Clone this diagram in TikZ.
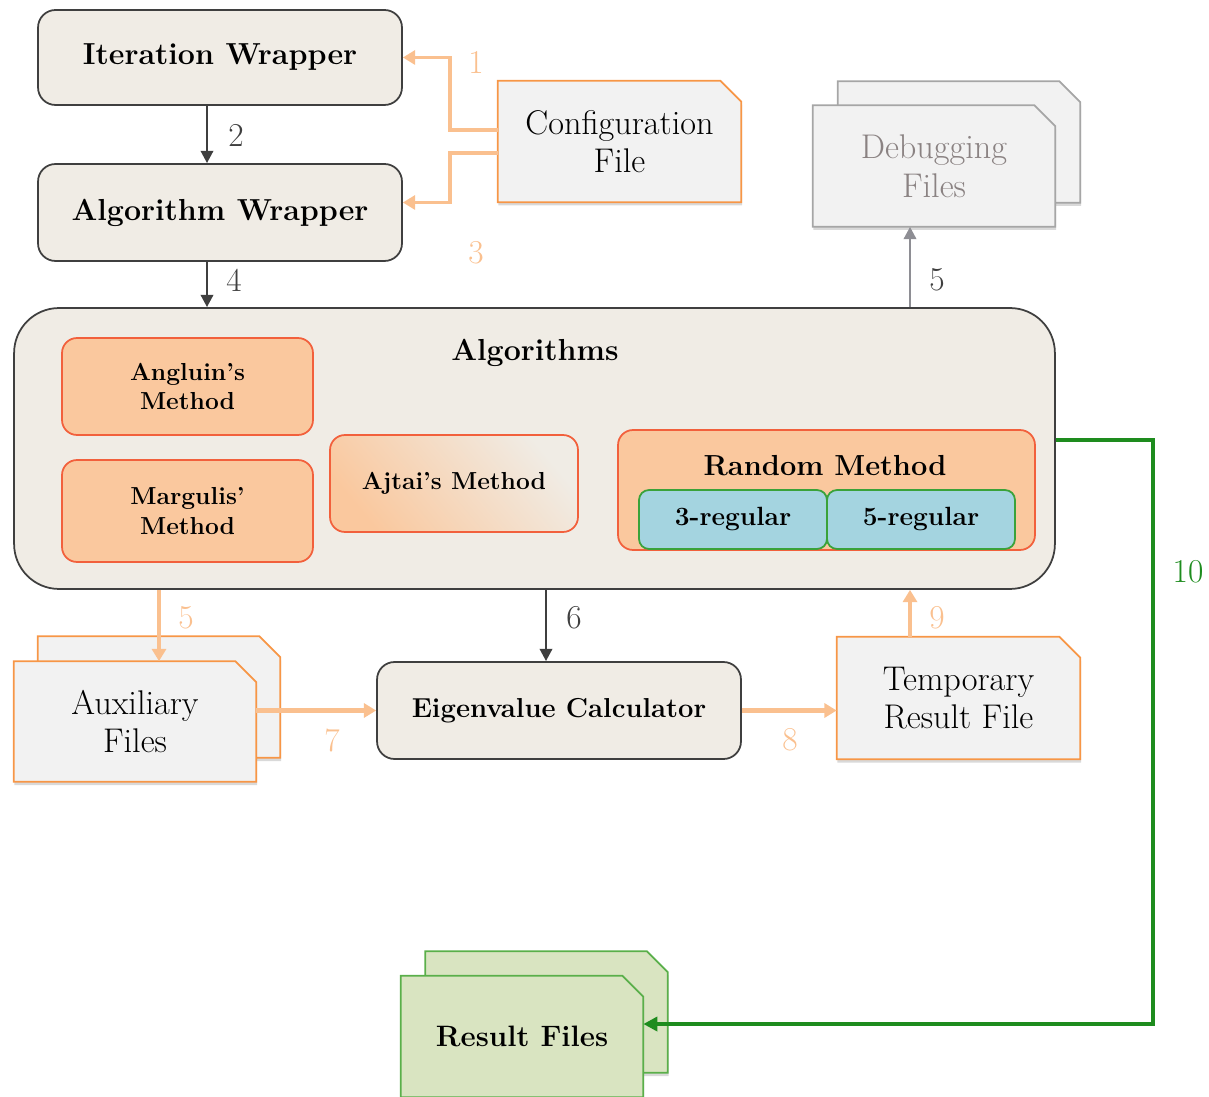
\documentclass[tikz,border=0pt]{standalone}
\usetikzlibrary{positioning,shadows,arrows.meta,backgrounds}

\definecolor{boxfill}{HTML}{F0ECE5}
\definecolor{boxline}{HTML}{3F3F3F}
\definecolor{filefill}{HTML}{F2F2F2}
\definecolor{fileline}{HTML}{F79646}
\definecolor{cfgarrow}{HTML}{FAC08F}
\definecolor{methodfill}{HTML}{FAC89E}
\definecolor{methodline}{HTML}{F2603C}
\definecolor{regfill}{HTML}{A4D4E0}
\definecolor{regline}{HTML}{3AA23A}
\definecolor{resfill}{HTML}{D9E4C1}
\definecolor{resline}{HTML}{5AAF4A}
\definecolor{resarrow}{HTML}{1E8C1E}
\definecolor{dbgline}{HTML}{A6A6A6}
\definecolor{dbgtext}{HTML}{8A8282}
\definecolor{dbgarrow}{HTML}{8E8E94}

% outline of a file node: rectangle with the top right corner cut off
\newcommand\fileoutline[2][]{%
  \path[fileshape,#1] (#2.south west) -- (#2.north west) -- ([xshift=-0.42cm]#2.north east)
    -- ([yshift=-0.42cm]#2.north east) -- (#2.south east) -- cycle;}

\tikzset{
  box/.style={draw=boxline, fill=boxfill, line width=1pt, rounded corners=0.35cm,
    font=\bfseries\fontsize{17.3}{20}\selectfont, align=center},
  method/.style={draw=methodline, fill=methodfill, line width=1pt, rounded corners=0.3cm,
    font=\bfseries\fontsize{14}{17}\selectfont, align=center},
  regbox/.style={draw=regline, fill=regfill, line width=1pt, rounded corners=0.2cm,
    font=\bfseries\fontsize{15}{18}\selectfont, minimum width=3.76cm, minimum height=1.18cm},
  file/.style={rectangle, align=center, font=\fontsize{19.5}{22}\selectfont,
    minimum width=4.84cm, minimum height=2.42cm},
  fileshape/.style={draw=fileline, fill=filefill, line width=1pt,
    drop shadow={opacity=0.3, shadow xshift=0.4pt, shadow yshift=-1.8pt}},
  darrow/.style={draw=boxline, line width=1.5pt, -{Triangle[length=7pt,width=7pt]}},
  carrow/.style={draw=cfgarrow, line width=2.2pt, -{Triangle[length=7pt,width=8pt]}},
  num/.style={font=\fontsize{19}{22}\selectfont}
}

\begin{document}
\begin{tikzpicture}[x=0.02cm, y=-0.02cm]
  \useasboundingbox (0,0) rectangle (1209,1097);

  % wrappers and configuration
  \node[box, minimum width=7.28cm, minimum height=1.9cm] (iter) at (220,57.5) {Iteration Wrapper};
  \node[box, minimum width=7.28cm, minimum height=1.94cm] (algwrap) at (220,212.5) {Algorithm Wrapper};
  \node[file, minimum width=4.86cm] (config) at (619.5,141.5) {Configuration\\File};

  % debugging files
  \node[file] (debugb) at (959,142) {};
  \node[file, text=dbgtext] (debugf) at (934,166) {Debugging\\Files};

  % algorithms
  \node[box, rounded corners=0.9cm, minimum width=20.82cm, minimum height=5.62cm] (algos) at (534.5,448.5) {};
  \node[font=\bfseries\fontsize{17.3}{20}\selectfont] (algostitle) at (535,353) {Algorithms};
  \node[method, minimum width=5.02cm, minimum height=1.94cm] (angluin) at (187.5,386.5) {Angluin's\\Method};
  \node[method, minimum width=5.02cm, minimum height=2.04cm] (margulis) at (187.5,511) {Margulis'\\Method};
  \node[method, fill=none, top color=boxfill, bottom color=methodfill, shading angle=-50,
    minimum width=4.96cm, minimum height=1.94cm] (ajtai) at (454,483.5) {Ajtai's Method};
  \node[method, minimum width=8.34cm, minimum height=2.4cm] (random) at (826.5,490) {};
  \node[font=\bfseries\fontsize{16.5}{19}\selectfont] (randomtitle) at (825,466) {Random Method};
  \node[regbox] (reg3) at (733,519.5) {3-regular};
  \node[regbox] (reg5) at (921,519.5) {5-regular};

  % lower row
  \node[file] (auxb) at (159,697) {};
  \node[file, minimum height=2.4cm] (auxf) at (135,721.5) {Auxiliary\\Files};
  \node[box, font=\bfseries\fontsize{15.6}{18}\selectfont, minimum width=7.28cm, minimum height=1.94cm] (eigen) at (559,710.5) {Eigenvalue Calculator};
  \node[file, minimum width=4.86cm, minimum height=2.44cm] (temp) at (958.5,698) {Temporary\\Result File};

  % results
  \node[file] (resb) at (546.5,1012) {};
  \node[file, font=\bfseries\fontsize{16.8}{19}\selectfont] (resf) at (522,1036.5) {Result Files};

  \begin{scope}[on background layer]
    \fileoutline{config}
    \fileoutline[draw=dbgline]{debugb}
    \fileoutline[draw=dbgline]{debugf}
    \fileoutline{auxb}
    \fileoutline{auxf}
    \fileoutline{temp}
    \fileoutline[draw=resline, fill=resfill]{resb}
    \fileoutline[draw=resline, fill=resfill]{resf}
  \end{scope}

  % connectors
  \draw[carrow] ([yshift=0.23cm]config.west) -- ++(-48,0) |- (iter.east);
  \draw[carrow] ([yshift=-0.23cm]config.west) -- ++(-48,0) |- ([yshift=0.2cm]algwrap.east);
  \draw[darrow] ([xshift=-0.26cm]iter.south) -- ([xshift=-0.26cm]algwrap.north);
  \draw[darrow] ([xshift=-0.26cm]algwrap.south) -- ([xshift=-0.26cm]algwrap.south |- algos.north);
  \draw[darrow, draw=dbgarrow] ([xshift=-0.48cm]debugf.south |- algos.north) -- ([xshift=-0.48cm]debugf.south);
  \draw[carrow] (auxb.north |- algos.south) -- (auxb.north |- auxf.north);
  \draw[darrow] ([xshift=-0.26cm]eigen.north |- algos.south) -- ([xshift=-0.26cm]eigen.north);
  \draw[carrow, line width=2.6pt] (eigen.west -| auxf.east) -- (eigen.west);
  \draw[carrow, line width=2.6pt] (eigen.east) -- (eigen.east -| temp.west);
  \draw[carrow] ([xshift=-0.97cm]temp.north) -- ([xshift=-0.97cm]temp.north |- algos.south);
  \draw[draw=resarrow, line width=2.5pt, -{Triangle[length=8pt,width=8pt]}]
    ([yshift=0.17cm]algos.east) -- ++(97,0) |- ([yshift=0.25cm]resf.east);

  % step numbers
  \node[num, text=cfgarrow] (n1) at (476,62) {1};
  \node[num, text=boxline] (n2) at (236,135) {2};
  \node[num, text=cfgarrow] (n3) at (476,253) {3};
  \node[num, text=boxline] (n4) at (234,280) {4};
  \node[num, text=boxline] (n5a) at (937,280) {5};
  \node[num, text=cfgarrow] (n5b) at (186,618) {5};
  \node[num, text=boxline] (n6) at (574,618) {6};
  \node[num, text=cfgarrow] (n7) at (332,740) {7};
  \node[num, text=cfgarrow] (n8) at (790,740) {8};
  \node[num, text=cfgarrow] (n9) at (937,618) {9};
  \node[num, text=resarrow] (n10) at (1188,572) {10};
\end{tikzpicture}
\end{document}
